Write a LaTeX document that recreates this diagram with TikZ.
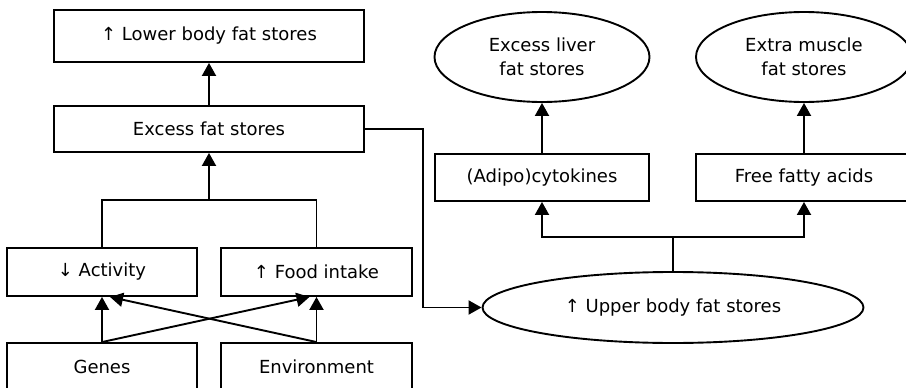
\documentclass[tikz,border=0pt]{standalone}
\usepackage{fontspec}
\setmainfont{DejaVu Sans}
\usetikzlibrary{shapes.geometric,arrows.meta}

\begin{document}
\begin{tikzpicture}[x=1pt,y=-1pt,line width=1.9pt,
	font=\fontsize{18}{24}\selectfont,
	box/.style={draw, rectangle, inner sep=0pt, align=center},
	oval/.style={draw, ellipse, inner sep=0pt, align=center},
	arr/.style={-{Triangle[length=13pt,width=14pt]}}]

	\useasboundingbox (0,0) rectangle (906,388);

	\node[box, minimum width=310, minimum height=52] (lower) at (209,36) {↑ Lower body fat stores};
	\node[box, minimum width=310, minimum height=46] (excess) at (209,129) {Excess fat stores};
	\node[box, minimum width=190, minimum height=48] (activity) at (102,272) {↓ Activity};
	\node[box, minimum width=191, minimum height=48] (food) at (316.5,272) {↑ Food intake};
	\node[box, minimum width=190, minimum height=48] (genes) at (102,367) {Genes};
	\node[box, minimum width=191, minimum height=48] (env) at (316.5,367) {Environment};

	\node[oval, minimum width=381, minimum height=71] (upper) at (673,307.5) {↑ Upper body fat stores};
	\node[box, minimum width=214, minimum height=47] (adipo) at (542,177.5) {(Adipo)cytokines};
	\node[box, minimum width=216, minimum height=47] (ffa) at (804,177.5) {Free fatty acids};
	\node[oval, minimum width=215, minimum height=90] (liver) at (542,57) {Excess liver\\fat stores};
	\node[oval, minimum width=216, minimum height=90] (muscle) at (804,57) {Extra muscle\\fat stores};

	\coordinate (join) at (209,200);
	\coordinate (bend) at (423,129);
	\coordinate (split) at (673,237);

	\draw[arr] (excess) -- (lower);
	\draw (activity.north) |- (join) -| (food.north);
	\draw[arr] (join) -- (excess);
	\draw[arr] (genes.north) -- (activity);
	\draw[arr] (env.north) -- (food);
	\draw[arr] (genes.north) -- ([xshift=-7]food.south);
	\draw[arr] (env.north) -- ([xshift=8]activity.south);

	\draw[arr] (excess.east) -- (bend) |- (upper);
	\draw (upper.north) -- (split);
	\draw[arr] (split) -| (adipo);
	\draw[arr] (split) -| (ffa);
	\draw[arr] (adipo) -- (liver);
	\draw[arr] (ffa) -- (muscle);

\end{tikzpicture}
\end{document}
